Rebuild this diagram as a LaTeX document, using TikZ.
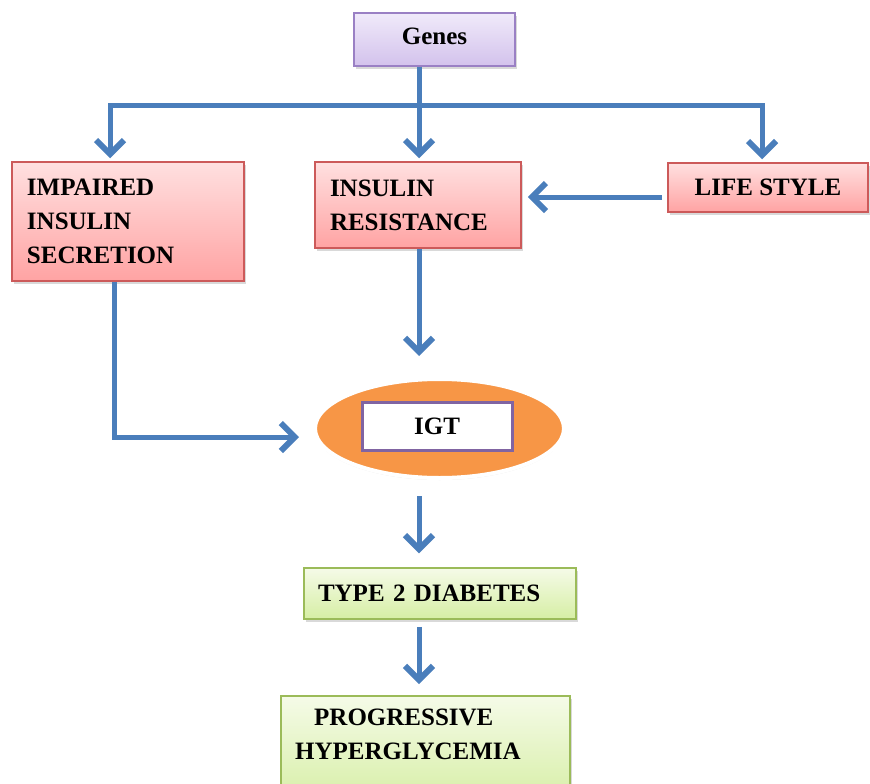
\documentclass[tikz,border=0pt]{standalone}
\usepackage{fontspec}
\setmainfont{Liberation Serif}
\usetikzlibrary{arrows.meta,shadows,shapes.geometric}
\definecolor{arrowblue}{HTML}{4A7EBB}
\definecolor{pinktop}{HTML}{FFE0E0}
\definecolor{pinkbot}{HTML}{FFA3A3}
\definecolor{pinkdraw}{HTML}{CC5A5A}
\definecolor{lavtop}{HTML}{F0EAFA}
\definecolor{lavbot}{HTML}{D3C2EC}
\definecolor{lavdraw}{HTML}{9A80C4}
\definecolor{greentop}{HTML}{F5FBE8}
\definecolor{greenbot}{HTML}{D6EEA4}
\definecolor{greendraw}{HTML}{9BBB59}
\definecolor{igtorange}{HTML}{F79646}
\definecolor{igtpurple}{HTML}{8064A2}
\begin{document}
\begin{tikzpicture}[x=1pt,y=-1pt,
  txt/.style={font=\bfseries\fontsize{25}{34}\selectfont, text=black},
  boxshadow/.style={drop shadow={shadow xshift=2pt,shadow yshift=-3pt,opacity=0.3}},
  pinkbox/.style={txt, draw=pinkdraw, line width=1.5pt, top color=pinktop, bottom color=pinkbot, boxshadow},
  lavbox/.style={txt, draw=lavdraw, line width=1.5pt, top color=lavtop, bottom color=lavbot, boxshadow},
  greenbox/.style={txt, draw=greendraw, line width=1.5pt, top color=greentop, bottom color=greenbot, boxshadow},
  conn/.style={draw=arrowblue, line width=5pt},
  arr/.style={conn, -{Straight Barb[length=14pt,width=28pt,line width=6pt]}}
]
\useasboundingbox (0,0) rectangle (870,784);
\clip (0,0) rectangle (870,784);

% nodes
\node[lavbox, minimum width=161pt, minimum height=53pt, text depth=6pt] (genes) at (434.5,39.5) {Genes};
\node[pinkbox, minimum width=232pt, minimum height=119pt, text width=202pt, inner xsep=15pt, align=left] (impaired) at (128,221.5) {IMPAIRED\\INSULIN\\SECRETION};
\node[pinkbox, minimum width=206pt, minimum height=86pt, text width=176pt, inner xsep=15pt, align=left] (resist) at (418,205) {INSULIN\\RESISTANCE};
\node[pinkbox, minimum width=200pt, minimum height=49pt] (life) at (768,187.5) {LIFE STYLE};

\node[ellipse, fill=igtorange, draw=white, line width=4pt, minimum width=249pt, minimum height=99pt,
      drop shadow={shadow xshift=0pt,shadow yshift=-2pt,opacity=0.2}] (igtell) at (439.5,428.5) {};
\node[txt, draw=igtpurple, line width=3pt, fill=white, minimum width=150pt, minimum height=48pt] (igt) at (437,426) {IGT};

\node[greenbox, minimum width=272pt, minimum height=51pt, text width=244pt, inner xsep=14pt, align=left] (type2) at (440,593.5) {TYPE 2 DIABETES};
\node[greenbox, minimum width=289pt, minimum height=110pt, anchor=north west] (prog) at (280,695) {};
\node[txt, align=left, anchor=north west, inner sep=0pt] (progtext) at (295,708.5) {\hspace*{19pt}PROGRESSIVE\\HYPERGLYCEMIA};

% coordinates
\coordinate (split) at (419,105);
\coordinate (bl) at (110,105);
\coordinate (br) at (762,105);
\coordinate (lsa) at (662,197);
\coordinate (ic) at (114,437);

% connectors
\draw[conn] (split |- genes.south) -- (split);
\draw[conn, line cap=rect] (bl) -- (br);
\draw[arr, shorten >=3pt] (bl) -- (bl |- impaired.north);
\draw[arr, shorten >=3pt] (split) -- (split |- resist.north);
\draw[arr, shorten >=3pt] (br) -- (br |- life.north);
\draw[arr, shorten >=6pt] (lsa) -- (resist.east |- lsa);
\draw[arr, shorten >=21pt] (split |- resist.south) -- (split |- igtell.north);
\draw[arr, shorten >=14pt] (ic |- impaired.south) -- (ic) -- (igtell.west |- ic);
\draw[arr, shorten <=16pt, shorten >=14pt] (split |- igtell.south) -- (split |- type2.north);
\draw[arr, shorten <=7pt, shorten >=11pt] (split |- type2.south) -- (split |- prog.north);
\end{tikzpicture}
\end{document}
